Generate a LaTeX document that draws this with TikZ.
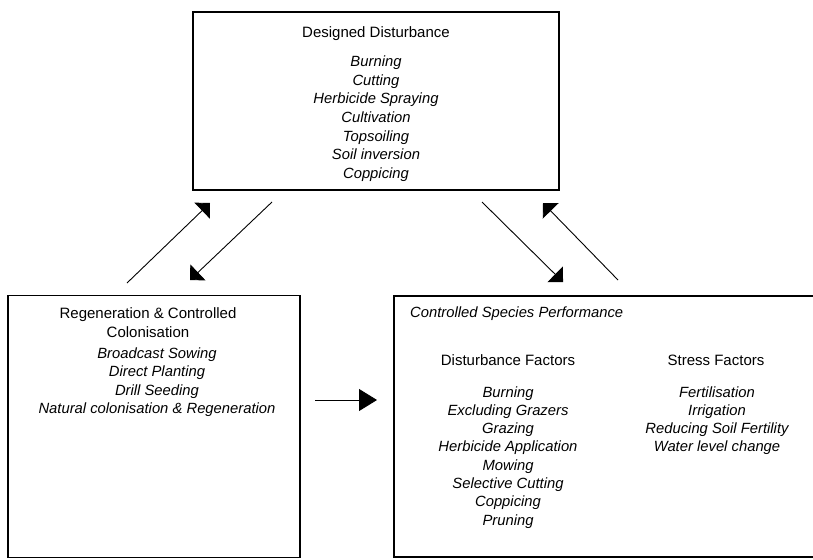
\documentclass[tikz,border=0pt]{standalone}
\usepackage{fontspec}
\setmainfont{Liberation Sans}
\usetikzlibrary{arrows.meta}
\begin{document}
\begin{tikzpicture}[x=1pt,y=-1pt,
  box/.style={draw, line width=1.5pt, inner sep=0pt},
  ttl/.style={font=\fontsize{15}{18}\selectfont, inner sep=0pt, anchor=base},
  item/.style={font=\fontsize{14.8}{18}\selectfont\itshape, inner sep=0pt, anchor=base},
  diag/.style={line width=0.9pt, -{Triangle[width=22pt,length=11pt]}},
  horiz/.style={line width=0.9pt, -{Triangle[width=22pt,length=18pt]}}]
\useasboundingbox (0,0) rectangle (813,559);
\clip (0,0) rectangle (813,559);
% boxes
\node[box, minimum width=366pt, minimum height=178pt] (dd) at (376,101) {};
\node[box, minimum width=292pt, minimum height=262pt] (rc) at (154,426.5) {};
\node[box, minimum width=440pt, minimum height=261pt] (cs) at (614,426.5) {};
% top box text
\node[ttl] (ddt) at (376,38) {Designed Disturbance};
\foreach \t [count=\i] in {Burning,Cutting,Herbicide Spraying,Cultivation,Topsoiling,Soil inversion,Coppicing}
  \node[item] (dd\i) at (376,{67+18.5*(\i-1)}) {\t};
% left box text
\node[ttl] (rct1) at (148,318) {Regeneration \& Controlled};
\node[ttl] (rct2) at (148,337) {Colonisation};
\foreach \t [count=\i] in {Broadcast Sowing,Direct Planting,Drill Seeding,Natural colonisation \& Regeneration}
  \node[item] (rc\i) at (157,{358+18.5*(\i-1)}) {\t};
% right box text
\node[item, anchor=base west] (cst) at (410,317) {Controlled Species Performance};
\node[ttl] (dft) at (508,365) {Disturbance Factors};
\node[ttl] (sft) at (716,365) {Stress Factors};
\foreach \t [count=\i] in {Burning,Excluding Grazers,Grazing,Herbicide Application,Mowing,Selective Cutting,Coppicing,Pruning}
  \node[item] (df\i) at (508,{397+18.3*(\i-1)}) {\t};
\foreach \t [count=\i] in {Fertilisation,Irrigation,Reducing Soil Fertility,Water level change}
  \node[item] (sf\i) at (717,{397+18.3*(\i-1)}) {\t};
% arrow end points
\coordinate (a1s) at (127,283); \coordinate (a1e) at (210,203);
\coordinate (a2s) at (272,202); \coordinate (a2e) at (190,280);
\coordinate (a3s) at (482,202); \coordinate (a3e) at (563,282);
\coordinate (a4s) at (618,280); \coordinate (a4e) at (543,203);
\coordinate (a5s) at (315,400); \coordinate (a5e) at (377,400);
\draw[diag] (a1s) -- (a1e);
\draw[diag] (a2s) -- (a2e);
\draw[diag] (a3s) -- (a3e);
\draw[diag] (a4s) -- (a4e);
\draw[horiz] (a5s) -- (a5e);
\end{tikzpicture}
\end{document}
